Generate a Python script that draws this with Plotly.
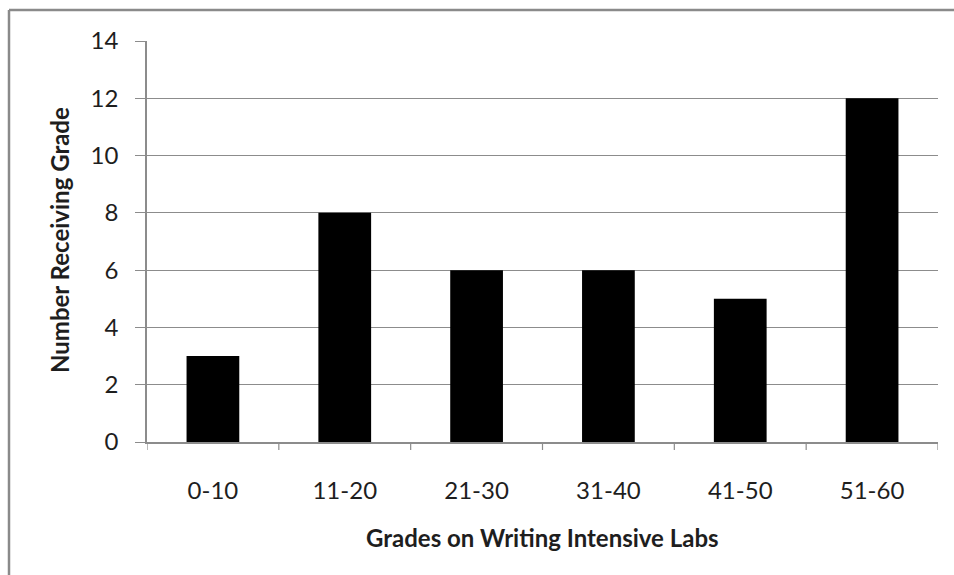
import plotly.graph_objects as go

categories = ["0-10", "11-20", "21-30", "31-40", "41-50", "51-60"]
counts = [3, 8, 6, 6, 5, 12]
y_ticks = [0, 2, 4, 6, 8, 10, 12, 14]

W, H = 954, 575
L, R, T, B = 147, 16, 41, 133
pw, ph = W - L - R, H - T - B

FONT = "Lato, 'Open Sans', sans-serif"
GRID = "#8c8c8c"
TEXT = "#1e1e1e"

fig = go.Figure(go.Bar(
    x=categories, y=counts,
    marker=dict(color="black", line=dict(width=0)),
    width=0.4,
))

fig.update_layout(
    width=W, height=H,
    margin=dict(l=L, r=R, t=T, b=B),
    paper_bgcolor="white", plot_bgcolor="white",
    showlegend=False,
    font=dict(family=FONT, color=TEXT, size=24),
    xaxis=dict(
        showline=True, linecolor=GRID, linewidth=1.5,
        showgrid=False,
        ticks="", tickfont=dict(size=24),
        ticklabelstandoff=26,
        range=[-0.5, 5.5],
    ),
    yaxis=dict(
        range=[0, 14], tickvals=y_ticks,
        showgrid=True, gridcolor=GRID, gridwidth=1.2,
        showline=True, linecolor=GRID, linewidth=1.5,
        ticks="outside", ticklen=10, tickcolor=GRID, tickwidth=1.2,
        tickfont=dict(size=24),
        ticklabelstandoff=12,
        zeroline=False,
    ),
)

# Axis titles
fig.add_annotation(text="<b>Grades on Writing Intensive Labs</b>",
                   xref="paper", yref="paper",
                   x=(542 - L) / pw, y=(H - B - 537) / ph,
                   xanchor="center", yanchor="middle", showarrow=False,
                   font=dict(size=24, color=TEXT))
fig.add_annotation(text="<b>Number Receiving Grade</b>",
                   xref="paper", yref="paper",
                   x=(60 - L) / pw, y=(H - B - 240) / ph,
                   xanchor="center", yanchor="middle", showarrow=False,
                   textangle=-90, font=dict(size=24, color=TEXT))

# Tick marks between categories on the category axis
for i in range(len(categories) + 1):
    fig.add_shape(type="line", xref="x", yref="paper",
                  x0=i - 0.5, x1=i - 0.5, y0=0, y1=-8 / ph,
                  line=dict(color=GRID, width=1.2))

# Outer chart border (top and left edges)
fig.add_shape(type="line", xref="paper", yref="paper",
              x0=(9 - L) / pw, x1=(W + 5 - L) / pw,
              y0=1 + (T - 10) / ph, y1=1 + (T - 10) / ph,
              line=dict(color="#8a8a8a", width=2.5))
fig.add_shape(type="line", xref="paper", yref="paper",
              x0=(9 - L) / pw, x1=(9 - L) / pw,
              y0=1 + (T - 10) / ph, y1=-(B + 5) / ph,
              line=dict(color="#8a8a8a", width=2.5))

fig.write_html("out.html")
